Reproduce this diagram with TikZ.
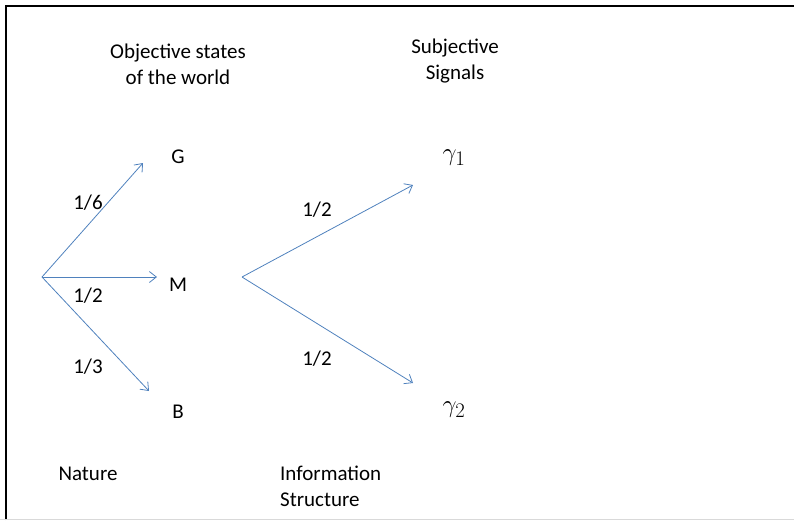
\documentclass[tikz,border=0pt]{standalone}
\usepackage{fontspec}
\setmainfont{Carlito}
\usetikzlibrary{arrows.meta,positioning}

\begin{document}
\begin{tikzpicture}[
    x=1pt, y=-1pt,
    lbl/.style={inner sep=0pt, align=center, font=\fontsize{21}{26}\selectfont},
    sig/.style={inner sep=0pt, font=\fontsize{29}{32}\selectfont},
    branch/.style={-{Straight Barb[length=7pt,width=11pt]}, draw={rgb,255:red,79;green,129;blue,189}, line width=0.8pt}
]
\useasboundingbox (0,0) rectangle (794,520);
% frame
\draw[line width=2pt] (6,520) -- (6,6) -- (794,6);
\draw[black!15, line width=1pt] (0,519.5) -- (794,519.5);
% headings
\node[lbl] (objhead) at (178,64) {Objective states\\of the world};
\node[lbl] (subhead) at (455,61) {Subjective\\Signals};
% nature
\coordinate (nature) at (42,277);
\node[lbl] (G) at (178,157) {G};
\node[lbl] (M) at (178,285) {M};
\node[lbl] (B) at (178,412) {B};
\coordinate (tipG) at (143,163);
\coordinate (tipM) at (157,277);
\coordinate (tipB) at (149,391);
\draw[branch] (nature) -- (tipG);
\draw[branch] (nature) -- (tipM);
\draw[branch] (nature) -- (tipB);
\node[lbl] (pG) at (88,203) {1/6};
\node[lbl] (pM) at (88,296) {1/2};
\node[lbl] (pB) at (88,367) {1/3};
% information structure
\coordinate (info) at (242,277);
\coordinate (tipone) at (413,185);
\coordinate (tiptwo) at (413,383);
\draw[branch] (info) -- (tipone);
\draw[branch] (info) -- (tiptwo);
\node[lbl] (pone) at (317,210) {1/2};
\node[lbl] (ptwo) at (317,359) {1/2};
\node[sig] (gone) at (454,158) {$\gamma_1$};
\node[sig] (gtwo) at (454,410) {$\gamma_2$};
% bottom labels
\node[lbl] (naturelbl) at (88,474) {Nature};
\node[lbl, align=left, anchor=west] (infolbl) at (280,486) {Information\\Structure};
\end{tikzpicture}
\end{document}
